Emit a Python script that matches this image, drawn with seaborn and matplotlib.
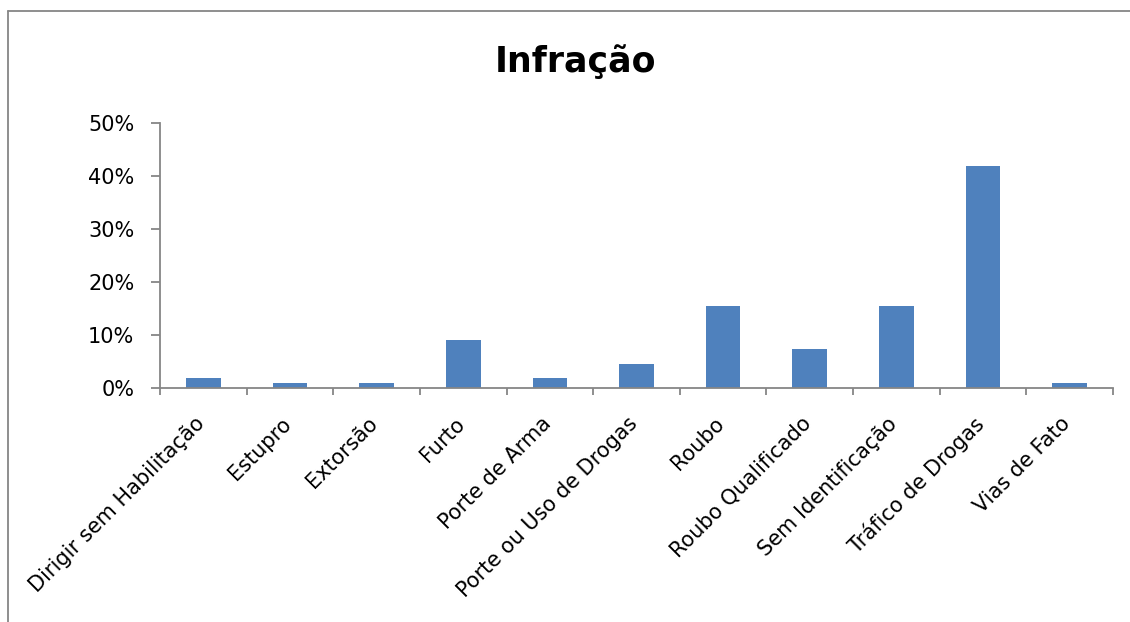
import matplotlib
matplotlib.use("Agg")
import matplotlib.pyplot as plt
from matplotlib.lines import Line2D
from matplotlib.ticker import PercentFormatter, MultipleLocator
from matplotlib.transforms import ScaledTranslation
import seaborn as sns
import pandas as pd

# Share of cases by type of offence (%)
categorias = [
    "Dirigir sem Habilitação", "Estupro", "Extorsão", "Furto", "Porte de Arma",
    "Porte ou Uso de Drogas", "Roubo", "Roubo Qualificado", "Sem Identificação",
    "Tráfico de Drogas", "Vias de Fato",
]
percentuais = [1.8, 0.9, 0.9, 9.1, 1.8, 4.5, 15.5, 7.3, 15.5, 41.8, 0.9]
titulo = "Infração"

df = pd.DataFrame({"categoria": categorias, "percentual": percentuais})

sns.set_theme(style="white")
plt.rcParams["font.family"] = ["DejaVu Sans"]

W, H = 1130, 622
fig = plt.figure(figsize=(W / 100, H / 100), dpi=100)
ax = fig.add_axes([160 / W, 1 - 388 / H, (1113 - 160) / W, (388 - 123) / H])

sns.barplot(data=df, x="categoria", y="percentual", color="#4F81BD",
            saturation=1, width=0.4, linewidth=0, ax=ax)

gray = "#868686"
ax.set_xlim(-0.5, len(categorias) - 0.5)
ax.set_ylim(0, 50)
ax.yaxis.set_major_locator(MultipleLocator(10))
ax.yaxis.set_major_formatter(PercentFormatter(100, decimals=0))
ax.set_xlabel("")
ax.set_ylabel("")

for side in ("top", "right"):
    ax.spines[side].set_visible(False)
for side in ("left", "bottom"):
    ax.spines[side].set_color(gray)
    ax.spines[side].set_linewidth(1.3)

# Category ticks sit on the boundaries between bars
ax.set_xticks([i - 0.5 for i in range(len(categorias) + 1)], minor=True)
ax.tick_params(axis="x", which="minor", length=5, width=1.3, color=gray,
               direction="out", bottom=True)
ax.tick_params(axis="x", which="major", length=0, pad=19, labelsize=15,
               labelcolor="black")
ax.tick_params(axis="y", length=6.5, width=1.3, color=gray, direction="out",
               left=True, pad=12, labelsize=15, labelcolor="black")
ax.set_xticks(range(len(categorias)))
ax.set_xticklabels(categorias, rotation=45, ha="right")
shift = ScaledTranslation(5 / 100, 1 / 100, fig.dpi_scale_trans)
for lbl in ax.get_xticklabels():
    lbl.set_transform(lbl.get_transform() + shift)

fig.text(575 / W, 1 - 72 / H, titulo, ha="center", va="baseline",
         fontsize=25, fontweight="bold", color="black")

# Outer chart frame (left and top edges)
x0, y0 = 8 / W, 1 - 11 / H
fig.add_artist(Line2D([x0, x0], [0, y0], transform=fig.transFigure,
                      color=gray, linewidth=1.3))
fig.add_artist(Line2D([x0, 1], [y0, y0], transform=fig.transFigure,
                      color=gray, linewidth=1.3))

fig.savefig("out.png", dpi=100, facecolor="white")
